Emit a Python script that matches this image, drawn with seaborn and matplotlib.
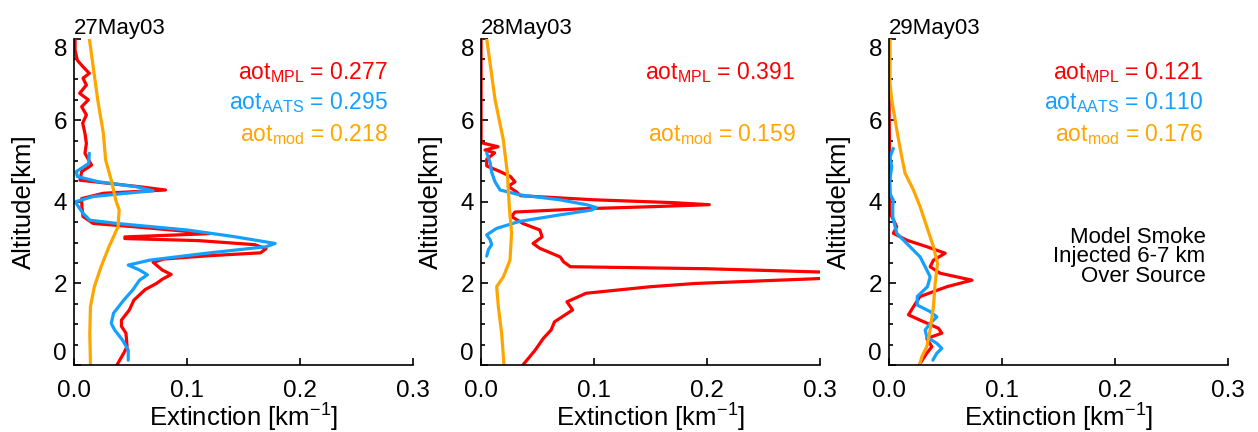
import numpy as np
import pandas as pd
import matplotlib
matplotlib.use("Agg")
import matplotlib.pyplot as plt
from matplotlib.ticker import MultipleLocator
import seaborn as sns

# ---------------- data (altitude km, extinction km^-1) ----------------
days = ["27May03", "28May03", "29May03"]

alt_mpl_27 = [8.0, 7.71, 7.47, 7.31, 7.15, 7.03, 6.86, 6.66, 6.50, 6.33, 6.13, 5.93, 5.68, 5.43, 5.19,
              4.90, 4.74, 4.53, 4.37, 4.29, 4.21, 4.08, 3.88, 3.64, 3.47, 3.39, 3.30, 3.22, 3.14, 3.10,
              3.05, 2.95, 2.85, 2.75, 2.68, 2.60, 2.52, 2.45, 2.33, 2.22, 2.10, 2.00, 1.85, 1.59, 1.35,
              1.10, 0.95, 0.78, 0.45, 0.29, 0.0]
ext_mpl_27 = [0.001, 0.001, 0.003, 0.008, 0.0136, 0.008, 0.011, 0.005, 0.0127, 0.0068, 0.011, 0.0077,
              0.0097, 0.011, 0.0097, 0.0156, 0.0068, 0.0053, 0.058, 0.081, 0.026, 0.0068, 0.007, 0.008,
              0.017, 0.053, 0.09, 0.12, 0.045, 0.045, 0.11, 0.16, 0.170, 0.165, 0.12, 0.08, 0.07, 0.073,
              0.078, 0.086, 0.078, 0.073, 0.063, 0.053, 0.049, 0.042, 0.042, 0.046, 0.047, 0.044, 0.038]

alt_aats_27 = [5.19, 4.94, 4.74, 4.62, 4.49, 4.37, 4.27, 4.21, 4.13, 4.00, 3.88, 3.72, 3.55, 3.47, 3.31,
               3.15, 2.98, 2.90, 2.74, 2.57, 2.45, 2.33, 2.21, 2.08, 1.84, 1.59, 1.27, 1.02, 0.86, 0.61,
               0.37, 0.12]
ext_aats_27 = [0.0136, 0.013, 0.002, 0.003, 0.022, 0.055, 0.070, 0.046, 0.017, 0.001, 0.004, 0.008,
               0.014, 0.038, 0.10, 0.141, 0.178, 0.170, 0.117, 0.067, 0.048, 0.058, 0.065, 0.058, 0.052,
               0.044, 0.035, 0.033, 0.036, 0.043, 0.048, 0.048]

alt_mod_27 = [8.0, 7.31, 6.5, 5.68, 5.03, 4.53, 4.04, 3.80, 3.39, 2.90, 2.41, 1.92, 1.43, 0.78, 0.0]
ext_mod_27 = [0.0136, 0.017, 0.021, 0.026, 0.028, 0.033, 0.037, 0.040, 0.039, 0.031, 0.024, 0.018,
              0.0146, 0.014, 0.0146]

alt_mpl_28 = [8.0, 5.45, 5.35, 5.27, 5.20, 5.04, 4.88, 4.74, 4.62, 4.49, 4.38, 4.25, 4.15, 4.05, 3.98,
              3.93, 3.88, 3.83, 3.75, 3.64, 3.47, 3.31, 3.14, 2.98, 2.86, 2.65, 2.53, 2.41, 2.36, 2.28,
              2.19, 2.12, 2.00, 1.92, 1.76, 1.55, 1.35, 1.06, 0.86, 0.65, 0.37, 0.0]
ext_mpl_28 = [0.0, 0.0, 0.015, 0.0035, 0.012, 0.005, 0.005, 0.017, 0.026, 0.030, 0.024, 0.031, 0.035,
              0.10, 0.17, 0.202, 0.15, 0.09, 0.03, 0.027, 0.037, 0.052, 0.054, 0.046, 0.052, 0.070, 0.073,
              0.079, 0.20, 0.30, 0.34, 0.30, 0.19, 0.15, 0.093, 0.076, 0.081, 0.065, 0.062, 0.055, 0.048,
              0.037]

alt_aats_28 = [5.2, 4.96, 4.72, 4.49, 4.29, 4.17, 4.05, 3.93, 3.86, 3.80, 3.68, 3.52, 3.35, 3.19, 3.07,
               2.95, 2.83, 2.67]
ext_aats_28 = [0.005, 0.008, 0.0094, 0.0124, 0.0168, 0.0344, 0.0697, 0.0932, 0.102, 0.098, 0.0697,
               0.034, 0.0138, 0.005, 0.008, 0.0094, 0.0065, 0.005]

alt_mod_28 = [8.0, 6.5, 5.52, 4.7, 3.88, 3.23, 2.57, 2.16, 1.92, 1.43, 0.78, 0.0]
ext_mod_28 = [0.005, 0.0124, 0.0197, 0.0233, 0.025, 0.027, 0.0256, 0.0197, 0.0138, 0.0153, 0.0182, 0.0203]

alt_mpl_29 = [6.7, 3.7, 3.64, 3.39, 3.23, 3.06, 2.9, 2.74, 2.57, 2.41, 2.25, 2.08, 1.92, 1.68, 1.43,
              1.23, 1.10, 0.90, 0.78, 0.65, 0.45, 0.29, 0.04]
ext_mpl_29 = [0.0, 0.0009, 0.0024, 0.0068, 0.0038, 0.0157, 0.0334, 0.0497, 0.0393, 0.0364, 0.0452,
              0.0734, 0.0512, 0.0275, 0.0216, 0.0172, 0.0275, 0.0438, 0.0467, 0.0334, 0.0379, 0.0334,
              0.0275]

alt_aats_29 = [5.31, 5.10, 4.86, 4.45, 4.20, 4.04, 3.88, 3.64, 3.23, 2.98, 2.65, 2.41, 2.16, 1.92, 1.68,
               1.47, 1.31, 1.18, 1.02, 0.86, 0.69, 0.53, 0.41, 0.29, 0.12]
ext_aats_29 = [0.0038, 0.0009, 0.0024, 0.0003, 0.0009, 0.0038, 0.0033, 0.0033, 0.0068, 0.0157, 0.0275,
               0.032, 0.0364, 0.034, 0.025, 0.025, 0.0364, 0.0423, 0.0364, 0.032, 0.0334, 0.0423, 0.0467,
               0.0423, 0.0388]

alt_mod_29 = [8.0, 6.9, 6.5, 5.68, 5.11, 4.7, 4.29, 3.88, 3.39, 2.9, 2.49, 2.0, 1.43, 0.86, 0.45, 0.2, 0.0]
ext_mod_29 = [0.0009, 0.0009, 0.0024, 0.0074, 0.0112, 0.0142, 0.0216, 0.0275, 0.0334, 0.0393, 0.0429,
              0.0408, 0.0393, 0.0364, 0.0334, 0.029, 0.027]

aot_mpl = ["0.277", "0.391", "0.121"]
aot_aats = ["0.295", None, "0.110"]
aot_mod = ["0.218", "0.159", "0.176"]
note_lines = ["Model Smoke", "Injected 6-7 km", "Over Source"]

series_data = [
    {"MPL": (alt_mpl_27, ext_mpl_27), "AATS": (alt_aats_27, ext_aats_27), "mod": (alt_mod_27, ext_mod_27)},
    {"MPL": (alt_mpl_28, ext_mpl_28), "AATS": (alt_aats_28, ext_aats_28), "mod": (alt_mod_28, ext_mod_28)},
    {"MPL": (alt_mpl_29, ext_mpl_29), "AATS": (alt_aats_29, ext_aats_29), "mod": (alt_mod_29, ext_mod_29)},
]

# ---------------- style ----------------
sns.set_style("ticks")
plt.rcParams["font.family"] = ["Liberation Sans", "DejaVu Sans"]
plt.rcParams["mathtext.fontset"] = "custom"
plt.rcParams["mathtext.rm"] = "Liberation Sans"
plt.rcParams["mathtext.it"] = "Liberation Sans:italic"
plt.rcParams["mathtext.bf"] = "Liberation Sans:bold"
for k in ["text.color", "axes.labelcolor", "xtick.color", "ytick.color", "axes.edgecolor"]:
    plt.rcParams[k] = "black"

RED, BLUE, ORANGE = "#FF0000", "#14A0FF", "#FFA500"
palette = {"MPL": RED, "AATS": BLUE, "mod": ORANGE}

fig = plt.figure(figsize=(12.58, 4.32), dpi=100)
lefts = [0.0588, 0.3824, 0.7067]

for i, left in enumerate(lefts):
    ax = fig.add_axes([left, 0.155, 0.2695, 0.7556])
    frames = []
    for name in ["MPL", "AATS", "mod"]:
        a, e = series_data[i][name]
        frames.append(pd.DataFrame({"alt": a, "ext": e, "series": name}))
    df = pd.concat(frames, ignore_index=True)
    sns.lineplot(data=df, x="ext", y="alt", hue="series", hue_order=["MPL", "AATS", "mod"],
                 palette=palette, sort=False, estimator=None, linewidth=2.3,
                 legend=False, ax=ax)

    ax.set_xlim(0, 0.3)
    ax.set_ylim(0, 8)
    ax.spines["top"].set_visible(False)
    ax.spines["right"].set_visible(False)
    for s in ("left", "bottom"):
        ax.spines[s].set_linewidth(1.2)
        ax.spines[s].set_color("black")

    ax.set_xticks([0, 0.1, 0.2, 0.3])
    ax.set_xticklabels(["0.0", "0.1", "0.2", "0.3"])
    ax.set_yticks([0, 2, 4, 6, 8])
    ax.set_yticklabels(["0", "2", "4", "6", "8"])
    ax.yaxis.set_minor_locator(MultipleLocator(0.5))
    ax.tick_params(axis="both", which="major", direction="in", length=5, width=1.2,
                   labelsize=17.5, colors="black")
    ax.tick_params(axis="y", which="minor", direction="in", length=3, width=1.2, colors="black")
    ax.tick_params(axis="x", which="major", pad=11)
    ax.tick_params(axis="y", which="major", pad=5)
    ylabs = ax.get_yticklabels()
    ylabs[0].set_va("bottom")
    ylabs[-1].set_va("top")

    ax.set_xlabel("Extinction [km$^{\\mathrm{-1}}$]", fontsize=18.5, color="black")
    ax.set_ylabel("Altitude[km]", fontsize=18.5, color="black")
    ax.xaxis.set_label_coords(0.5, -0.112)
    ax.yaxis.set_label_coords(-0.112, 0.5)
    ax.set_title(days[i], loc="left", fontsize=16, pad=3, color="black")

    ax.text(0.278, 7.0, "aot$_{\\mathrm{MPL}}$ = " + aot_mpl[i], color=RED,
            ha="right", va="baseline", fontsize=16.5)
    if aot_aats[i] is not None:
        ax.text(0.278, 6.27, "aot$_{\\mathrm{AATS}}$ = " + aot_aats[i], color=BLUE,
                ha="right", va="baseline", fontsize=16.5)
    ax.text(0.278, 5.49, "aot$_{\\mathrm{mod}}$ = " + aot_mod[i], color=ORANGE,
            ha="right", va="baseline", fontsize=16.5)

    if i == 2:
        for y, line in zip([3.0, 2.52, 2.04], note_lines):
            ax.text(0.28, y, line, color="black", ha="right", va="baseline", fontsize=16)

fig.savefig("out.png", dpi=100)
